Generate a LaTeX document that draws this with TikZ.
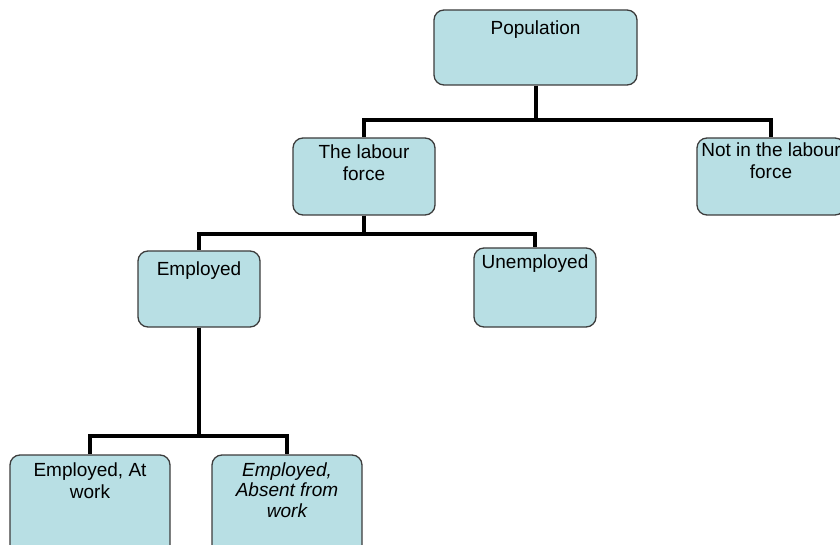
\documentclass[tikz,border=0pt]{standalone}
\usepackage{fontspec}
\setmainfont{Liberation Sans}
\usepackage{tikz}
\usetikzlibrary{positioning}
\definecolor{boxfill}{RGB}{184,223,228}
\definecolor{boxline}{RGB}{60,60,60}

\begin{document}
\begin{tikzpicture}[x=1pt, y=-1pt,
  box/.style={draw=boxline, fill=boxfill, line width=1.3pt, rounded corners=10pt, inner sep=0pt},
  boxtext/.style={font=\fontsize{19}{22}\selectfont, align=center, anchor=north, inner sep=0pt},
  link/.style={line width=4pt}]
\clip (0,0) rectangle (840,545);

% top level
\node[box, minimum width=203pt, minimum height=75pt] (pop) at (535.5,47.5) {};
\node[boxtext, below=11pt of pop.north] (popT) {Population};

% labour force (left) and not in it (right)
\node[box, minimum width=142pt, minimum height=77pt] (lab) at (364,176.5) {};
\node[boxtext, below=7pt of lab.north] (labT) {The labour\\force};
\node[box, minimum width=148pt, minimum height=77pt] (notlab) at (771,176.5) {};
\node[boxtext, below=5pt of notlab.north] (notlabT) {Not in the labour\\force};

% employed / unemployed
\node[box, minimum width=122pt, minimum height=76pt] (emp) at (199,289) {};
\node[boxtext, below=11pt of emp.north] (empT) {Employed};
\node[box, minimum width=122pt, minimum height=79pt] (unemp) at (535,287.5) {};
\node[boxtext, below=7pt of unemp.north] (unempT) {Unemployed};

% bottom level
\node[box, minimum width=160pt, minimum height=100pt] (atwork) at (90,505) {};
\node[boxtext, below=8pt of atwork.north] (atworkT) {Employed, At\\work};
\node[box, minimum width=150pt, minimum height=100pt] (absent) at (287,505) {};
\node[boxtext, below=8pt of absent.north, font=\fontsize{19}{20.5}\selectfont\itshape] (absentT) {Employed,\\Absent from\\work};

% connectors
\draw[link] (pop.south) -- ++(0,34) -| (lab.north);
\draw[link] (pop.south) -- ++(0,34) -| (notlab.north);
\draw[link] (lab.south) -- ++(0,18) -| (emp.north);
\draw[link] (lab.south) -- ++(0,18) -| (unemp.north);
\draw[link] (emp.south) -- ++(0,108) -| (atwork.north);
\draw[link] (emp.south) -- ++(0,108) -| (absent.north);
\end{tikzpicture}
\end{document}
